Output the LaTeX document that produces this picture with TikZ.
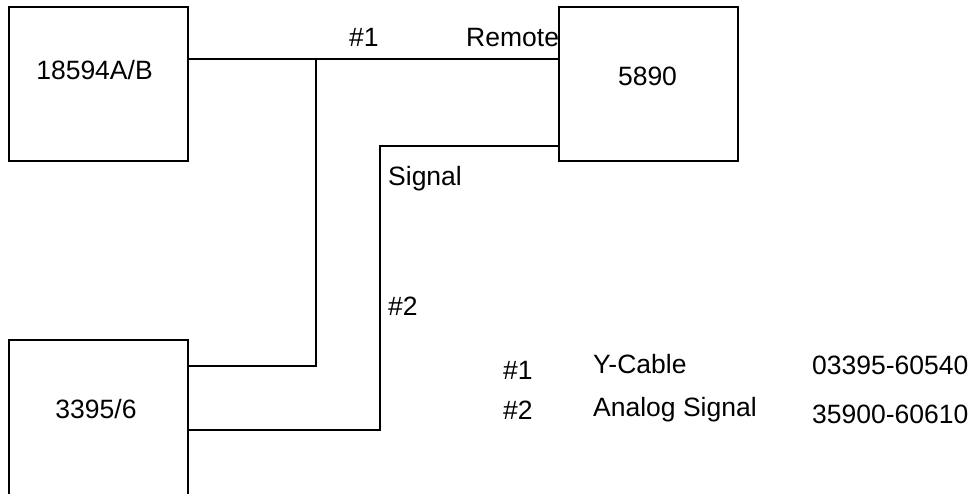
\documentclass[tikz,border=0pt]{standalone}
\usepackage{fontspec}
\setmainfont{Liberation Sans}
\begin{document}
\begin{tikzpicture}[x=1pt,y=-1pt,
  unit/.style={draw=black,line width=1.3pt,minimum width=179pt,minimum height=154pt,inner sep=0pt},
  txt/.style={inner sep=0pt,font=\fontsize{26.5}{31}\selectfont},
  wire/.style={line width=1.3pt}]
\useasboundingbox (0,0) rectangle (976,493);
\node[unit] (b1) at (98.5,84) {};
\node[unit] (b2) at (648.5,84) {};
\node[unit,minimum height=170pt] (b3) at (98.5,425) {};
\node[txt,anchor=base] (t1) at (94.5,79) {18594A/B};
\node[txt,anchor=base] (t2) at (647.5,85) {5890};
\node[txt,anchor=base] (t3) at (96,418) {3395/6};
% junctions
\coordinate (j1) at (316,59);
\coordinate (j2) at (316,366);
\coordinate (k1) at (380,146);
\coordinate (k2) at (380,430);
\draw[wire] (b1.east |- j1) -- (b2.west |- j1);
\draw[wire] (j1) -- (j2) -- (b3.east |- j2);
\draw[wire] (b2.west |- k1) -- (k1) -- (k2) -- (b3.east |- k2);
% labels
\node[txt,anchor=base west] (l1) at (349,46) {\#1};
\node[txt,anchor=base west] (l2) at (466,46) {Remote};
\node[txt,anchor=base west] (l3) at (388,185) {Signal};
\node[txt,anchor=base west] (l4) at (388,315) {\#2};
% legend
\node[txt,anchor=base west] (g1) at (503,379) {\#1};
\node[txt,anchor=base west] (g2) at (593,373) {Y-Cable};
\node[txt,anchor=base west] (g3) at (812,374) {03395-60540};
\node[txt,anchor=base west] (g4) at (503,419) {\#2};
\node[txt,anchor=base west] (g5) at (593,416) {Analog Signal};
\node[txt,anchor=base west] (g6) at (812,423) {35900-60610};
\end{tikzpicture}
\end{document}
